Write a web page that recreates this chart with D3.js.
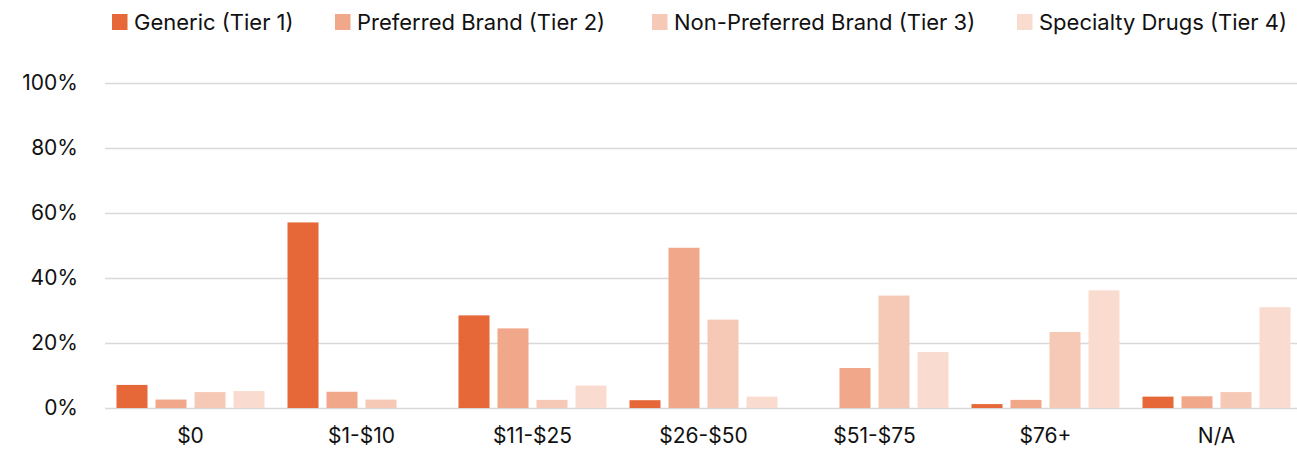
<!DOCTYPE html>
<html>
<head>
<meta charset="utf-8">
<script src="https://cdn.jsdelivr.net/npm/d3@7"></script>
<style>
  html, body { margin: 0; padding: 0; background: #fff; }
  svg { display: block; font-family: Inter, "Noto Sans", sans-serif; }
</style>
</head>
<body>
<div id="chart"></div>
<script>
// ── Data ──────────────────────────────────────────────────────────────
const categories = ['$0', '$1-$10', '$11-$25', '$26-$50', '$51-$75', '$76+', 'N/A'];
const seriesNames = ['Generic (Tier 1)', 'Preferred Brand (Tier 2)', 'Non-Preferred Brand (Tier 3)', 'Specialty Drugs (Tier 4)'];
const generic      = [7.1, 57.1, 28.5, 2.4, 0, 1.2, 3.5];
const preferred    = [2.6, 5.0, 24.5, 49.3, 12.3, 2.5, 3.6];
const nonPreferred = [4.9, 2.6, 2.5, 27.2, 34.6, 23.4, 4.9];
const specialty    = [5.2, 0, 6.9, 3.5, 17.2, 36.2, 31.0];
const yTicks = [0, 20, 40, 60, 80, 100];

const COLORS = ['#E66838', '#F1A789', '#F6C9B6', '#F9DBD0'];

// ── Layout ────────────────────────────────────────────────────────────
const width = 1297, height = 455;
const M = { top: 83, left: 105, bottom: 47 };
const plotRight = M.left + categories.length * 171;

const series = [generic, preferred, nonPreferred, specialty];
const rows = categories.map((c, i) => ({ cat: c, values: series.map(s => s[i]) }));

const svg = d3.select('#chart').append('svg')
  .attr('width', width)
  .attr('height', height);

const x0 = d3.scaleBand().domain(categories).range([M.left, plotRight]);
const x1 = d3.scaleBand().domain(d3.range(seriesNames.length))
  .range([11.5, 159.5]).paddingInner(0.205).paddingOuter(0);
const y = d3.scaleLinear().domain([0, 100]).range([height - M.bottom, M.top]);

// Gridlines + y labels
const yAxis = svg.append('g')
  .attr('transform', `translate(${M.left},0)`)
  .call(d3.axisLeft(y).tickValues(yTicks).tickFormat(d => d + '%')
    .tickSize(-(width - M.left)).tickPadding(27));
yAxis.select('.domain').remove();
yAxis.selectAll('line').attr('stroke', '#d9d9d9').attr('stroke-width', 1.6);
yAxis.selectAll('text')
  .attr('font-size', '21px')
  .attr('fill', '#111')
  .attr('font-family', 'Inter, sans-serif');

// Bars
const groups = svg.append('g').selectAll('g')
  .data(rows)
  .join('g')
  .attr('transform', d => `translate(${x0(d.cat)},0)`);

groups.selectAll('rect')
  .data(d => d.values.map((v, k) => ({ k, v })))
  .join('rect')
  .attr('x', d => x1(d.k))
  .attr('width', x1.bandwidth())
  .attr('y', d => y(d.v))
  .attr('height', d => y(0) - y(d.v))
  .attr('fill', d => COLORS[d.k]);

// X axis labels
const xAxis = svg.append('g')
  .attr('transform', `translate(0,${y(0)})`)
  .call(d3.axisBottom(x0).tickSize(0).tickPadding(20));
xAxis.select('.domain').remove();
xAxis.selectAll('text')
  .attr('font-size', '21px')
  .attr('fill', '#111')
  .attr('font-family', 'Inter, sans-serif');

// Legend
const legendX = [112, 335, 652, 1017];
const legend = svg.append('g').selectAll('g')
  .data(seriesNames)
  .join('g')
  .attr('transform', (d, i) => `translate(${legendX[i]},14)`);
legend.append('rect')
  .attr('width', 15.5).attr('height', 16)
  .attr('fill', (d, i) => COLORS[i]);
legend.append('text')
  .attr('x', 22).attr('y', 8).attr('dy', '0.35em')
  .attr('font-size', '22px')
  .attr('fill', '#111')
  .text(d => d);
</script>
</body>
</html>
